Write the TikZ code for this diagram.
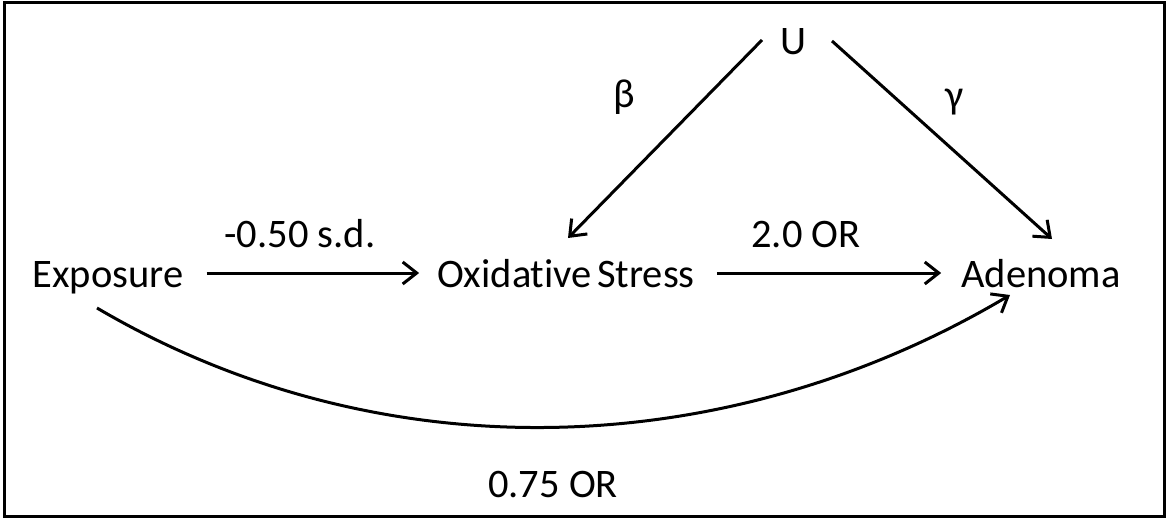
\documentclass[tikz,border=0pt]{standalone}
\usepackage{fontspec}
\setmainfont{Carlito}[Ligatures={NoCommon}]
\usetikzlibrary{arrows.meta}
\begin{document}
\begin{tikzpicture}[x=1pt,y=-1pt,
  lbl/.style={font=\fontsize{40.5}{44}\selectfont, inner sep=0pt, anchor=base},
  arr/.style={line width=3pt, -{Straight Barb[length=14pt,width=22pt,line width=3pt]}}]
\useasboundingbox (0,0) rectangle (1168,519);
\draw[line width=3pt] (4,3) rectangle (1164,516);
% main nodes
\node[lbl] (expo) at (108,287) {Exposure};
\node[lbl] (ox) at (566,287) {Oxidative\hspace{-4pt} Stress};
\node[lbl] (aden) at (1041,287) {Adenoma};
\node[lbl] (u) at (793,55) {U};
% labels
\node[lbl] (l1) at (300,247) {-0.50 s.d.};
\node[lbl] (l2) at (806,247) {2.0 OR};
\node[lbl] (lb) at (624,107) {β};
\node[lbl] (lg) at (955,108) {γ};
\node[lbl] (l3) at (553,497) {0.75 OR};
% connectors
\draw[arr] ([xshift=23pt,yshift=14pt]expo.base east) -- ([xshift=-18pt,yshift=14pt]ox.base west);
\draw[arr] ([xshift=22pt,yshift=14pt]ox.base east) -- ([xshift=-20pt,yshift=14pt]aden.base west);
\draw[arr] ([xshift=-31pt,yshift=15pt]u.base) -- ([xshift=2pt,yshift=49pt]ox.base);
\draw[arr] ([xshift=39pt,yshift=14pt]u.base) -- ([xshift=11pt,yshift=48pt]aden.base);
\draw[arr] ([xshift=-11pt,yshift=-21pt]expo.base) .. controls (381,475) and (727,463) .. ([xshift=-31pt,yshift=-8pt]aden.base);
\end{tikzpicture}
\end{document}
